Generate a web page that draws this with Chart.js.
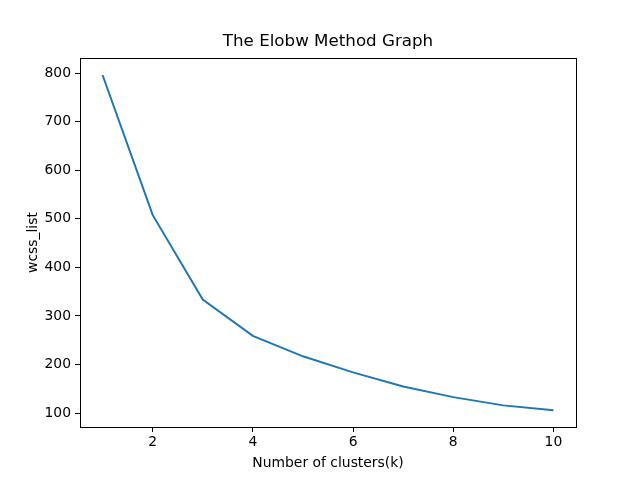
<!DOCTYPE html>
<html>
<head>
<meta charset="utf-8">
<script src="https://cdn.jsdelivr.net/npm/chart.js@4/dist/chart.umd.min.js"></script>
<style>
  html, body { margin: 0; padding: 0; background: #fff; }
  #wrap { width: 640px; height: 480px; }
</style>
</head>
<body>
<div id="wrap"><canvas id="chart" width="640" height="480"></canvas></div>
<script>
// values
const clusters = [1, 2, 3, 4, 5, 6, 7, 8, 9, 10];
const wcssList = [796, 508, 334, 259, 217, 184, 155, 133, 116, 106];
const xTicks = [2, 4, 6, 8, 10];
const yTicks = [100, 200, 300, 400, 500, 600, 700, 800];
const chartTitle = 'The Elobw Method Graph';

const FONT = "'DejaVu Sans', sans-serif";
const tickFont = { family: FONT, size: 13.9 };

// matplotlib-style frame and a title centred over the axes, not the canvas
const frame = {
  id: 'frame',
  afterDraw(chart) {
    const { ctx, chartArea: a } = chart;
    ctx.save();
    ctx.strokeStyle = '#000';
    ctx.lineWidth = 1;
    ctx.strokeRect(Math.round(a.left) + 0.5, Math.round(a.top) + 0.5,
      Math.round(a.right - a.left), Math.round(a.bottom - a.top));
    ctx.fillStyle = '#000';
    ctx.font = '16.7px ' + FONT;
    ctx.textAlign = 'center';
    ctx.textBaseline = 'middle';
    ctx.fillText(chartTitle, (a.left + a.right) / 2, a.top - 16);
    ctx.restore();
  }
};

new Chart(document.getElementById('chart'), {
  type: 'line',
  data: {
    datasets: [{
      data: clusters.map((k, i) => ({ x: k, y: wcssList[i] })),
      borderColor: '#1f77b4',
      borderWidth: 2,
      pointRadius: 0,
      tension: 0,
      fill: false
    }]
  },
  options: {
    responsive: false,
    animation: false,
    devicePixelRatio: 1,
    layout: { padding: { left: 0, right: 64, top: 58, bottom: 0 } },
    plugins: {
      legend: { display: false },
      tooltip: { enabled: false },
      title: { display: false }
    },
    scales: {
      x: {
        type: 'linear',
        min: 0.55, max: 10.45,
        afterBuildTicks: s => { s.ticks = xTicks.map(v => ({ value: v })); },
        afterFit: s => { s.height = 53; },
        grid: { display: true, drawOnChartArea: false, drawTicks: true, tickLength: 5, color: '#000' },
        border: { display: true, color: '#000' },
        ticks: { color: '#000', font: tickFont, padding: 2, maxRotation: 0 },
        title: {
          display: true, text: 'Number of clusters(k)', color: '#000',
          font: { family: FONT, size: 13.9 }, padding: { top: 0, bottom: 8 }
        }
      },
      y: {
        min: 71.5, max: 831,
        afterBuildTicks: s => { s.ticks = yTicks.map(v => ({ value: v })); },
        afterFit: s => { s.width = 80; },
        grid: { display: true, drawOnChartArea: false, drawTicks: true, tickLength: 5, color: '#000' },
        border: { display: true, color: '#000' },
        ticks: { color: '#000', font: tickFont, padding: 4 },
        title: {
          display: true, text: 'wcss_list', color: '#000',
          font: { family: FONT, size: 13.9 }, padding: { top: 25, bottom: 0 }
        }
      }
    }
  },
  plugins: [frame]
});
</script>
</body>
</html>
